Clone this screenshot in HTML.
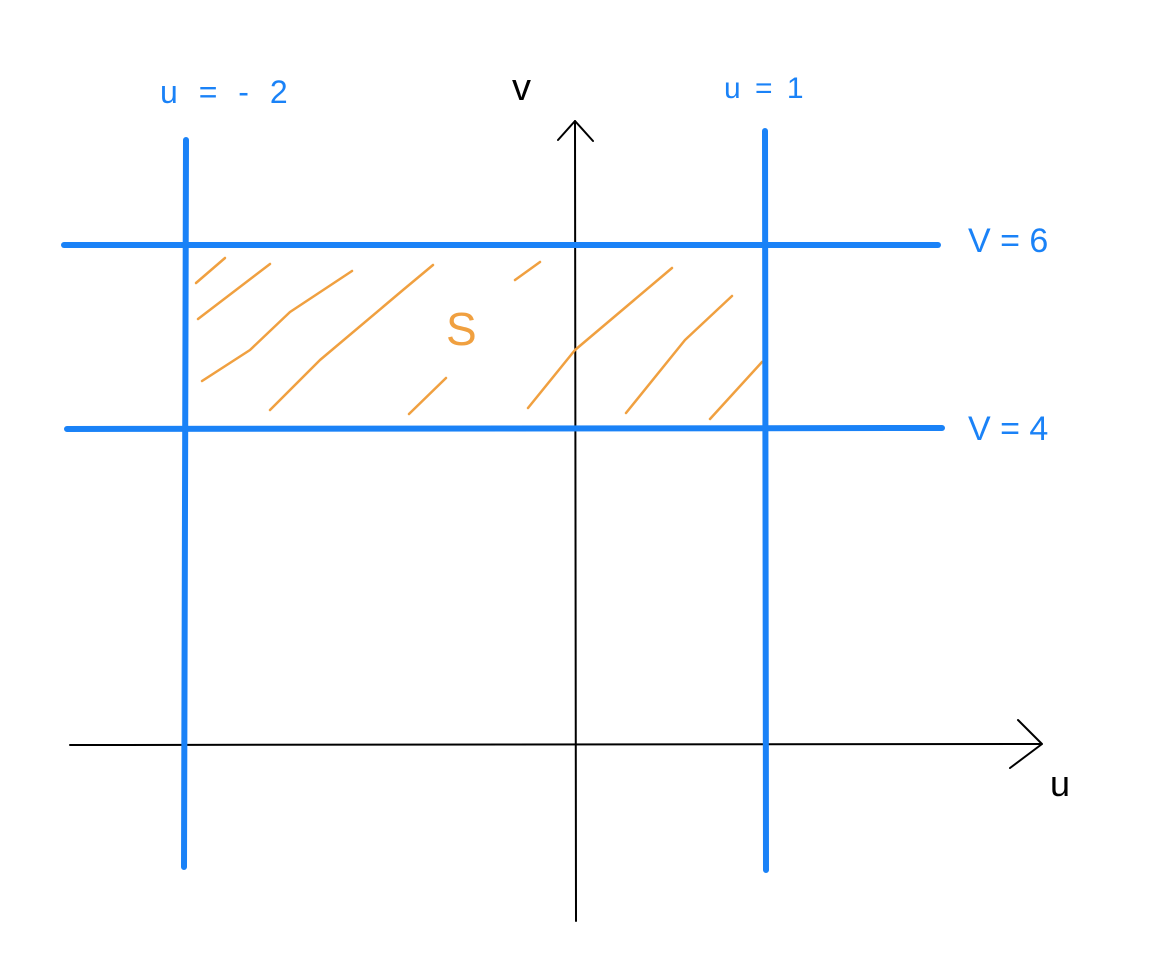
<!DOCTYPE html>
<html><head><meta charset="utf-8"><style>html,body{margin:0;padding:0;background:#fff}svg{display:block}</style></head>
<body>
<svg width="1154" height="968" viewBox="0 0 1154 968" xmlns="http://www.w3.org/2000/svg">
<g stroke="#000" stroke-width="2" fill="none" stroke-linecap="round" stroke-linejoin="round">
<line x1="576" y1="921" x2="575" y2="121"/>
<polyline points="558,140 575,121 593,141"/>
<line x1="70" y1="745" x2="1041" y2="744"/>
<polyline points="1018,720 1042,744 1010,768"/>
</g>
<g stroke="#f0a040" stroke-width="2.5" fill="none" stroke-linecap="round" stroke-linejoin="round">
<polyline points="196,283 225,258"/>
<polyline points="198,319 270,264"/>
<polyline points="202,381 250,350 290,312 352,271"/>
<polyline points="270,410 320,360 403,290 433,265"/>
<polyline points="515,280 540,262"/>
<polyline points="409,414 446,378"/>
<polyline points="528,408 575,350 672,268"/>
<polyline points="626,413 685,340 732,296"/>
<polyline points="710,419 762,362"/>
</g>
<g stroke="#1a82f7" stroke-width="6" fill="none" stroke-linecap="round">
<line x1="186" y1="140" x2="184" y2="867"/>
<line x1="765" y1="131" x2="766" y2="870"/>
<line x1="64" y1="245" x2="938" y2="245"/>
<line x1="67" y1="429" x2="942" y2="428"/>
</g>
<g font-family="Liberation Sans, sans-serif">
<text x="160" y="103" font-size="32" fill="#1a82f7" letter-spacing="6">u = - 2</text>
<text x="724" y="98" font-size="30" fill="#1a82f7" letter-spacing="3">u = 1</text>
<text x="968" y="252" font-size="34" fill="#1a82f7">V = 6</text>
<text x="968" y="440" font-size="34" fill="#1a82f7">V = 4</text>
<text x="512" y="100" font-size="38" fill="#000">v</text>
<text x="1050" y="796" font-size="36" fill="#000">u</text>
<text x="446" y="345" font-size="46" fill="#f0a040">S</text>
</g>
</svg>
</body></html>
